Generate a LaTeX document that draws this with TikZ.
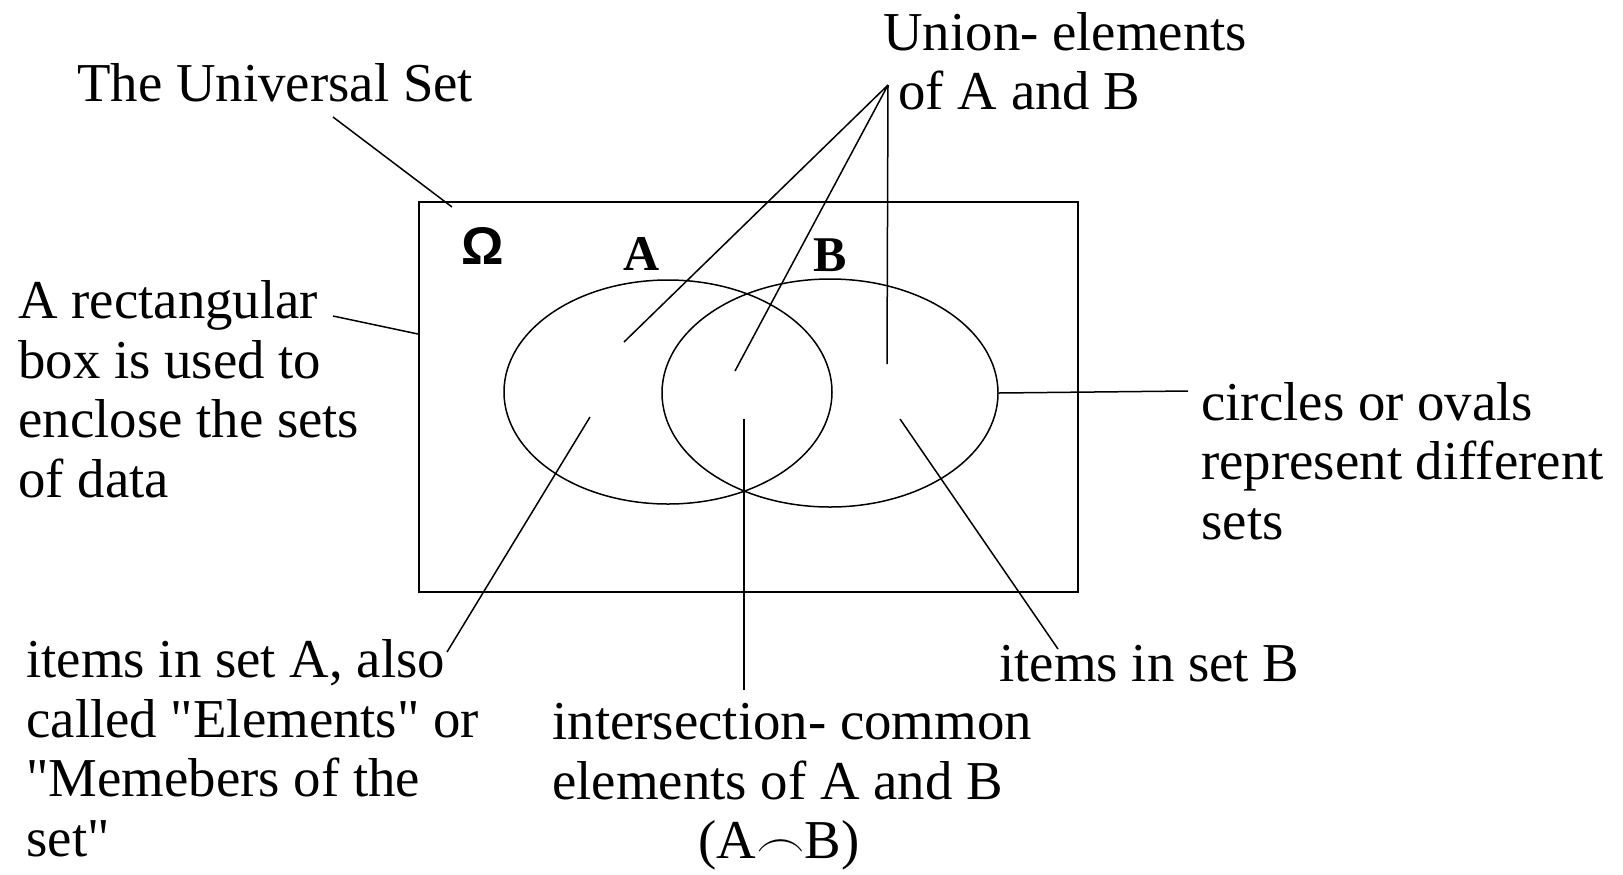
\documentclass[tikz,border=0pt]{standalone}
\usepackage{fontspec}
\setmainfont{Liberation Serif}
\newfontfamily\omegafont{Liberation Sans}
\usetikzlibrary{positioning, shapes.geometric}

\begin{document}
\begin{tikzpicture}[x=0.5pt,y=-0.5pt,
    note/.style={font=\fontsize{27.4}{29.75}\selectfont,align=left,inner sep=0pt,anchor=west},
    setname/.style={font=\fontsize{25}{28}\selectfont\bfseries,inner sep=0pt},
    setoval/.style={draw,ellipse,inner sep=0pt,line width=0.75pt},
    pointer/.style={line width=0.75pt}]
  \useasboundingbox (0,0) rectangle (1623,874);
  % universe and the two sets
  \node[draw,line width=1pt,minimum width=329.5pt,minimum height=195pt,inner sep=0pt] (box) at (748.5,397) {};
  \node[setoval,minimum width=164pt,minimum height=112pt] (A) at (668,392) {};
  \node[setoval,minimum width=168pt,minimum height=114pt] (B) at (830,393) {};
  \node[font=\fontsize{26.5}{30}\selectfont\omegafont\bfseries,inner sep=0pt] (omega) at (483,246) {Ω};
  \node[setname] (Aname) at (642,254) {A};
  \node[setname] (Bname) at (830,255) {B};

  % labels
  \node[note] (univ) at (77,83) {The Universal Set};
  \node[note] (union) at (883,61) {Union- elements\\\hspace*{7.5pt}of A and B};
  \node[note] (boxnote) at (18,389) {A rectangular\\box is used to\\enclose the sets\\of data};
  \node[note] (setsnote) at (1201,461) {circles or ovals\\represent different\\sets};
  \node[note] (itemsB) at (999,664) {items in set B};
  \node[note] (itemsA) at (26,748) {items in set A, also\\called \textquotedbl Elements\textquotedbl\ or\\\textquotedbl Memebers of the\\set\textquotedbl};
  \node[note] (inter) at (552,787) {intersection- common\\elements of A and B\\\hspace*{73pt}(A$\frown$B)};

  % pointer ends
  \coordinate (u) at (888,85);
  \coordinate (uA) at (624,342);
  \coordinate (uAB) at (735,371);
  \coordinate (uB) at (887,364);
  \coordinate (corner) at (452,207);
  \coordinate (pA) at (590,417);
  \coordinate (pAB) at (744,419);
  \coordinate (pB) at (900,419);

  \draw[pointer] (333,117) -- (corner);
  \draw[pointer] (333,316) -- (box.west |- 0,334);
  \draw[pointer] (u) -- (uA) (u) -- (uAB) (u) -- (uB);
  \draw[pointer] (B.east) -- (1188,391);
  \draw[pointer] (pA) -- (447,652);
  \draw[pointer] (pAB) -- (744,690);
  \draw[pointer] (pB) -- (1058,649);
\end{tikzpicture}
\end{document}
